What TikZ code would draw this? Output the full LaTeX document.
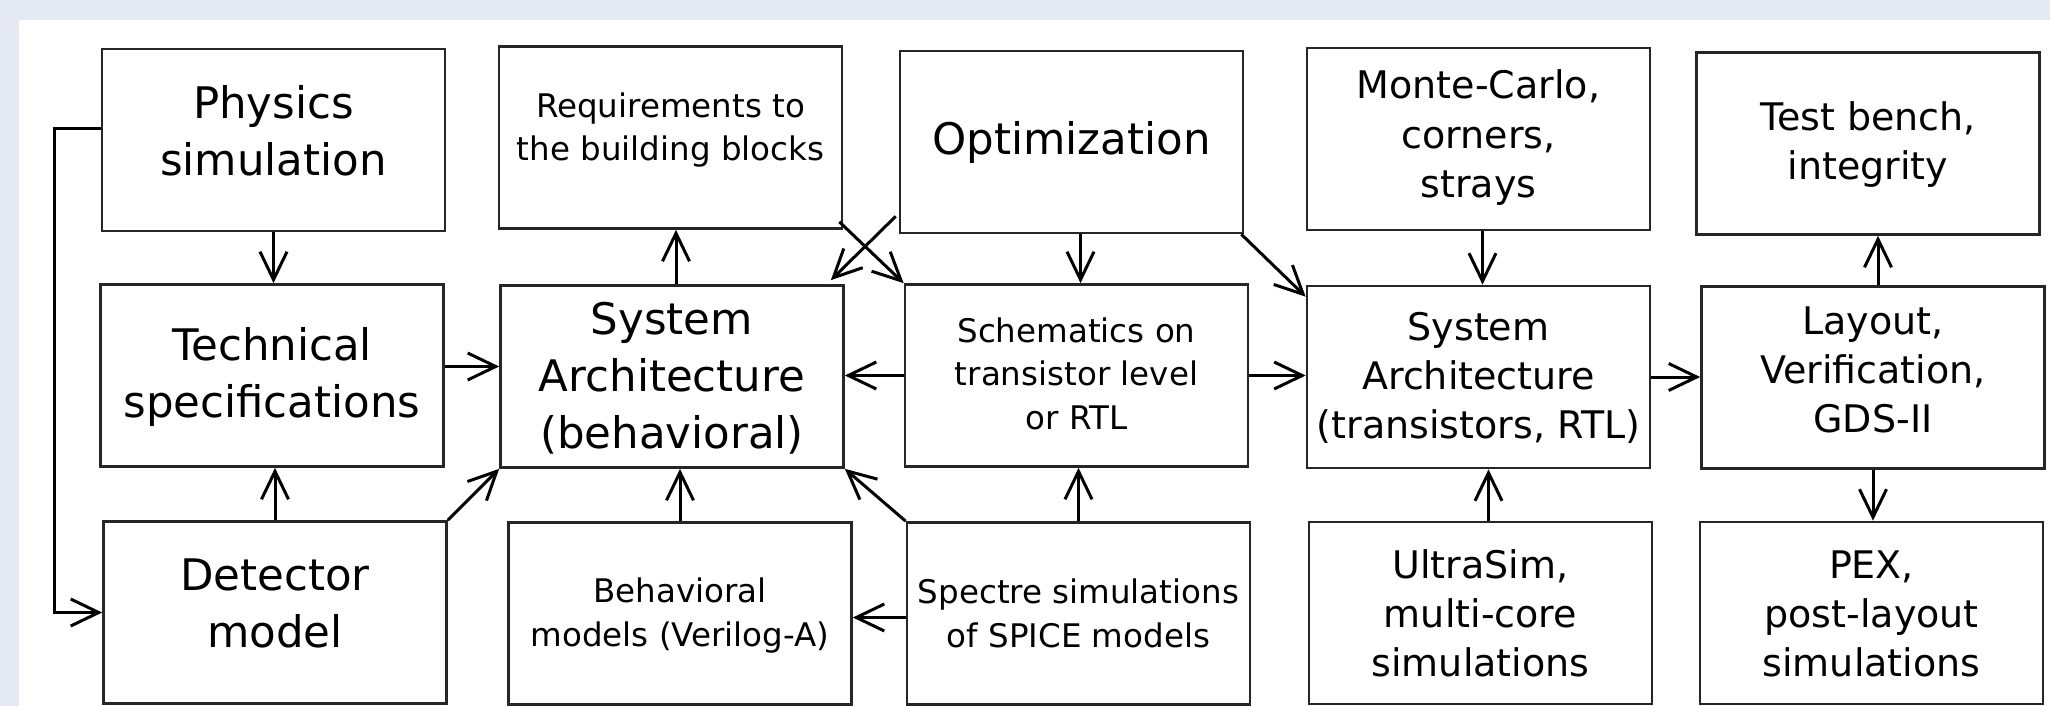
\documentclass[tikz,border=0pt]{standalone}
\usepackage{fontspec}
\setmainfont{DejaVu Sans}
\usetikzlibrary{arrows.meta,calc}
\definecolor{bgc}{RGB}{229,233,242}
\begin{document}
\begin{tikzpicture}[x=0.5pt,y=-0.5pt,
  box/.style={draw=black!85,line width=1.35pt,rectangle,inner sep=0pt,
    minimum width=171.5pt,minimum height=91pt,align=center},
  bl/.style args={#1/#2}{execute at end node={\rule[-#2pt]{0pt}{\dimexpr#1pt+#2pt\relax}}},
  bigf/.style={font=\fontsize{21.75pt}{28.5pt}\selectfont},
  medf/.style={font=\fontsize{19pt}{24.5pt}\selectfont},
  smlf/.style={font=\fontsize{16.25pt}{21.75pt}\selectfont},
  arr/.style={line width=1.5pt,-{Straight Barb[length=14pt,width=13.5pt,line width=1.5pt]}}
]
\fill[bgc] (0,0) rectangle (2050,706);
\fill[white] (19,20) rectangle (2050,706);
\useasboundingbox (0,0) rectangle (2050,706);

% top row
\node[box,bigf,bl=46/10] (phys) at (273.5,140) {Physics\\simulation};
\node[box,smlf,bl=35.5/12] (req) at (670.5,137.5) {Requirements to\\the building blocks};
\node[box,bigf,bl=19/6] (opt) at (1071.5,142) {Optimization};
\node[box,medf,bl=65/7] (mc) at (1478.5,139) {Monte-Carlo,\\corners,\\strays};
\node[box,medf,bl=42.5/7] (test) at (1868,143.5) {Test bench,\\integrity};
% middle row
\node[box,bigf,bl=48.5/7] (tech) at (272,375.5) {Technical\\specifications};
\node[box,bigf,bl=78.5/7] (sysb) at (672,376.5) {System\\Architecture\\(behavioral)};
\node[box,smlf,bl=59.5/6] (schem) at (1076.5,375.5) {Schematics on\\transistor level\\or RTL};
\node[box,medf,bl=67/6] (syst) at (1478.5,377) {System\\Architecture\\(transistors, RTL)};
\node[box,medf,bl=64.5/10] (lay) at (1873,377.5) {Layout,\\Verification,\\GDS-II};
% bottom row
\node[box,bigf,bl=46.5/12] (det) at (275,612.5) {Detector\\model};
\node[box,smlf,bl=39.5/7] (beh) at (680,613.5) {Behavioral\\models (Verilog-A)};
\node[box,smlf,bl=39.5/6] (spec) at (1078.5,613.5) {Spectre simulations\\of SPICE models};
\node[box,medf,bl=70/7] (ultra) at (1480.5,613) {UltraSim,\\multi-core\\simulations};
\node[box,medf,bl=70/7] (pex) at (1871.5,613) {PEX,\\post-layout\\simulations};

% connectors
\draw[arr] (phys.south) -- (phys.south |- tech.north);
\draw[arr] (det.north) -- (det.north |- tech.south);
\coordinate (t1) at ($(tech.east)+(0,-9)$);
\draw[arr] (t1) -- (t1 -| sysb.west);
\coordinate (p1) at ($(phys.west)+(0,-11)$);
\coordinate (lp) at (54,129);
\draw[arr] (p1) -- (p1 -| lp) |- (det.west);
\draw[arr] (det.north east) -- (sysb.south west);
\coordinate (s1) at ($(sysb.north)+(4,0)$);
\draw[arr] (s1) -- (s1 |- req.south);
\draw[arr] (beh.north) -- (beh.north |- sysb.south);
\draw[arr] ($(req.south east)+(-4,-8)$) -- (schem.north west);
\draw[arr] ($(opt.south west)+(-3,-18)$) -- ($(sysb.north east)+(-14,-4)$);
\coordinate (o1) at ($(opt.south)+(9,0)$);
\draw[arr] (o1) -- (o1 |- schem.north);
\draw[arr] ($(opt.south east)+(-3,0)$) -- ($(syst.north west)+(0,12)$);
\draw[arr] (schem.west) -- (schem.west -| sysb.east);
\draw[arr] (schem.east) -- (schem.east -| syst.west);
\draw[arr] (spec.north) -- (spec.north |- schem.south);
\draw[arr] (spec.north west) -- (sysb.south east);
\coordinate (sp1) at ($(spec.west)+(0,4)$);
\draw[arr] (sp1) -- (sp1 -| beh.east);
\coordinate (m1) at ($(mc.south)+(4,0)$);
\draw[arr] (m1) -- (m1 |- syst.north);
\coordinate (u1) at ($(ultra.north)+(8,0)$);
\draw[arr] (u1) -- (u1 |- syst.south);
\draw[arr] (syst.east) -- (syst.east -| lay.west);
\coordinate (l1) at ($(lay.north)+(5,0)$);
\draw[arr] (l1) -- (l1 |- test.south);
\draw[arr] (lay.south) -- (lay.south |- pex.north);
\end{tikzpicture}
\end{document}
